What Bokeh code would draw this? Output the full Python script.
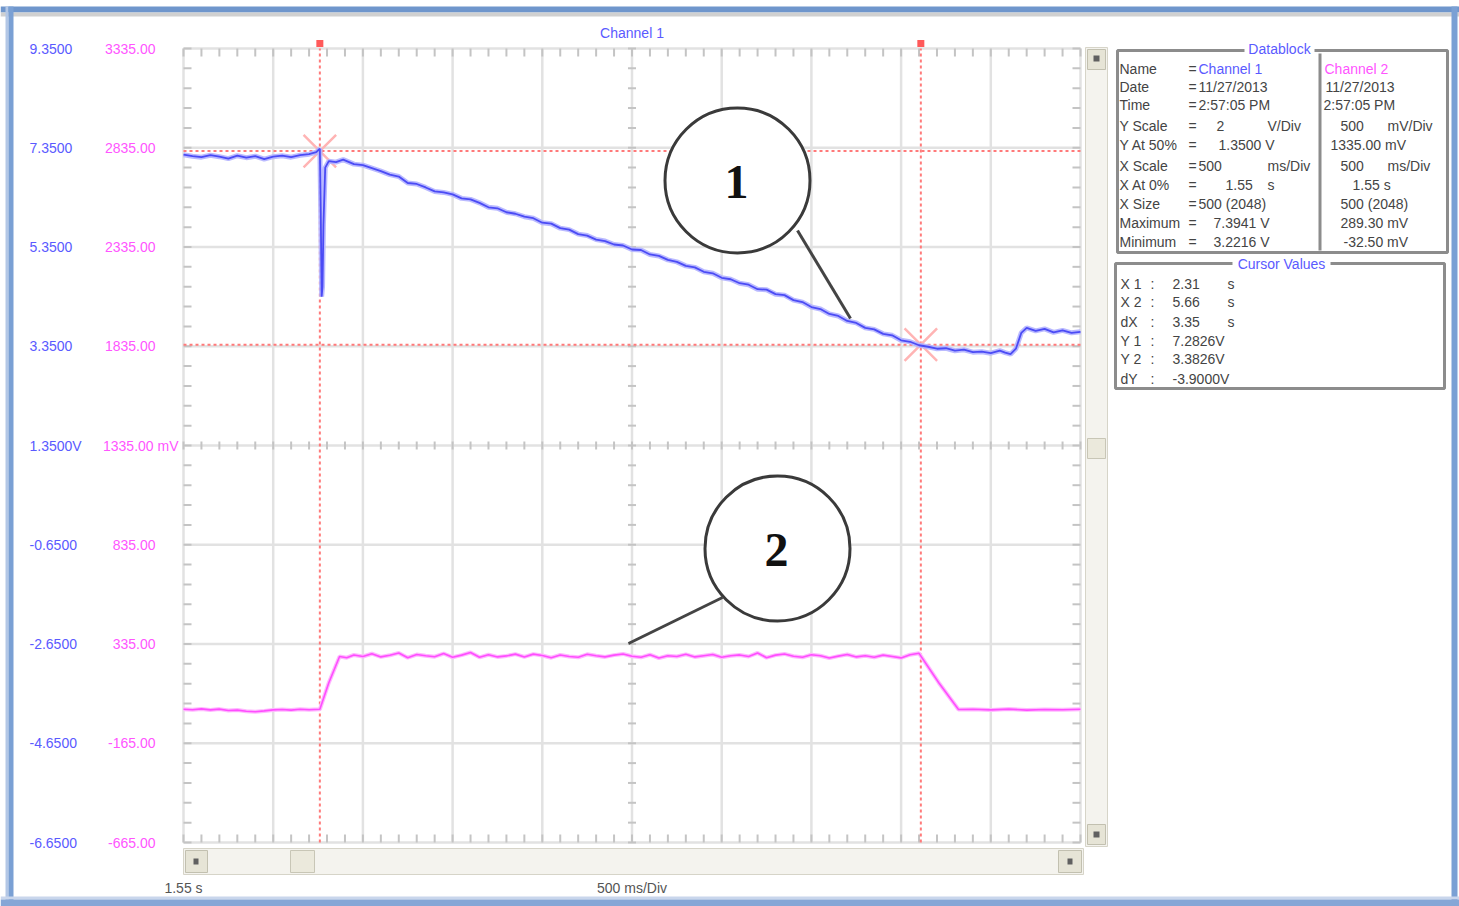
import numpy as np
from bokeh.plotting import figure
from bokeh.models import Range1d
from bokeh.core.properties import value
from bokeh.embed import file_html
from bokeh.resources import INLINE

# ---------------- data ----------------
x_div_s = [1.55, 2.05, 2.55, 3.05, 3.55, 4.05, 4.55, 5.05, 5.55, 6.05, 6.55]
ch1_ticks_v = [-6.65, -4.65, -2.65, -0.65, 1.35, 3.35, 5.35, 7.35, 9.35]
ch1_tick_labels = ["-6.6500", "-4.6500", "-2.6500", "-0.6500", "1.3500V",
                   "3.3500", "5.3500", "7.3500", "9.3500"]
ch2_ticks_mv = [-665, -165, 335, 835, 1335, 1835, 2335, 2835, 3335]
ch2_tick_labels = ["-665.00", "-165.00", "335.00", "835.00", "1335.00 mV",
                   "1835.00", "2335.00", "2835.00", "3335.00"]
x_label_start = "1.55 s"
x_label_scale = "500 ms/Div"
title_text = "Channel 1"

ch1_t = [1.55, 1.60, 1.65, 1.70, 1.75, 1.80, 1.85, 1.90, 1.95, 2.00, 2.05, 2.10,
         2.15, 2.20, 2.25, 2.29, 2.31, 2.315, 2.32, 2.325, 2.33, 2.34, 2.36,
         2.40, 2.44, 2.50, 2.55, 2.60, 2.65, 2.70, 2.75, 2.80, 2.85, 2.90, 2.95,
         3.00, 3.05, 3.10, 3.15, 3.20, 3.25, 3.30, 3.35, 3.40, 3.45, 3.50, 3.55,
         3.60, 3.65, 3.70, 3.75, 3.80, 3.85, 3.90, 3.95, 4.00, 4.05, 4.10, 4.15,
         4.20, 4.25, 4.30, 4.35, 4.40, 4.45, 4.50, 4.55, 4.60, 4.65, 4.70, 4.75,
         4.80, 4.85, 4.90, 4.95, 5.00, 5.05, 5.10, 5.15, 5.20, 5.25, 5.30, 5.35,
         5.40, 5.45, 5.50, 5.55, 5.60, 5.65, 5.70, 5.75, 5.80, 5.85, 5.90, 5.95,
         6.00, 6.05, 6.10, 6.13, 6.16, 6.19, 6.22, 6.25, 6.30, 6.35, 6.40, 6.45,
         6.50, 6.55]
ch1_v = [7.21, 7.18, 7.16, 7.20, 7.17, 7.13, 7.19, 7.15, 7.18, 7.12, 7.17, 7.19,
         7.16, 7.20, 7.22, 7.26, 7.33, 6.10, 4.35, 4.55, 5.80, 6.95, 7.08,
         7.06, 7.11, 7.02, 7.00, 6.94, 6.88, 6.81, 6.77, 6.64, 6.62, 6.55, 6.47,
         6.45, 6.41, 6.33, 6.31, 6.24, 6.15, 6.13, 6.05, 6.02, 5.96, 5.93, 5.84,
         5.82, 5.73, 5.70, 5.61, 5.58, 5.50, 5.47, 5.40, 5.38, 5.30, 5.29, 5.20,
         5.17, 5.09, 5.05, 4.97, 4.94, 4.85, 4.82, 4.73, 4.70, 4.62, 4.59, 4.50,
         4.49, 4.40, 4.38, 4.28, 4.24, 4.14, 4.10, 4.00, 3.96, 3.86, 3.82, 3.72,
         3.69, 3.60, 3.57, 3.47, 3.44, 3.37, 3.34, 3.30, 3.31, 3.26, 3.28, 3.23,
         3.24, 3.21, 3.26, 3.22, 3.19, 3.30, 3.62, 3.72, 3.66, 3.70, 3.63, 3.67,
         3.62, 3.64]

ch2_t = [1.55, 1.60, 1.65, 1.70, 1.75, 1.80, 1.85, 1.90, 1.95, 2.00, 2.05, 2.10,
         2.15, 2.20, 2.25, 2.31, 2.36, 2.42,
         2.46, 2.50, 2.55, 2.60, 2.65, 2.70, 2.75, 2.80, 2.85, 2.90, 2.95, 3.00,
         3.05, 3.10, 3.15, 3.20, 3.25, 3.30, 3.35, 3.40, 3.45, 3.50, 3.55, 3.60,
         3.65, 3.70, 3.75, 3.80, 3.85, 3.90, 3.95, 4.00, 4.05, 4.10, 4.15, 4.20,
         4.25, 4.30, 4.35, 4.40, 4.45, 4.50, 4.55, 4.60, 4.65, 4.70, 4.75, 4.80,
         4.85, 4.90, 4.95, 5.00, 5.05, 5.10, 5.15, 5.20, 5.25, 5.30, 5.35, 5.40,
         5.45, 5.50, 5.55, 5.60, 5.65, 5.76, 5.87,
         5.95, 6.05, 6.15, 6.25, 6.35, 6.45, 6.55]
ch2_mv = [6, 4, 8, 3, 7, 0, 2, -4, -6, -2, 3, 5, 2, 6, 4, 6, 140, 272,
          266, 280, 272, 286, 270, 278, 290, 266, 282, 276, 271, 287, 268, 279,
          292, 268, 281, 270, 275, 284, 270, 284, 277, 266, 280, 272, 268, 283,
          276, 270, 279, 285, 273, 268, 281, 264, 276, 272, 283, 270, 276, 282,
          268, 276, 280, 272, 290, 266, 279, 285, 273, 268, 281, 276, 264, 274,
          282, 270, 276, 268, 279, 272, 265, 281, 288, 140, 5,
          6, 3, 7, 2, 5, 4, 6]

cursor_x_s = [2.31, 5.66]
cursor_y_v = [7.2826, 3.3826]

db_fields = ["Name", "Date", "Time", "Y Scale", "Y At 50%", "X Scale",
             "X At 0%", "X Size", "Maximum", "Minimum"]
ch1_info = ["Channel 1", "11/27/2013", "2:57:05 PM", "2", "1.3500 V", "500",
            "1.55", "500 (2048)", "7.3941 V", "3.2216 V"]
ch1_units = ["", "", "", "V/Div", "", "ms/Div", "s", "", "", ""]
ch2_info = ["Channel 2", "11/27/2013", "2:57:05 PM", "500", "1335.00 mV", "500",
            "1.55 s", "500 (2048)", "289.30 mV", "-32.50 mV"]
ch2_units = ["", "", "", "mV/Div", "", "ms/Div", "", "", "", ""]
cursor_fields = ["X 1", "X 2", "dX", "Y 1", "Y 2", "dY"]
cursor_vals = ["2.31", "5.66", "3.35", "7.2826V", "3.3826V", "-3.9000V"]
cursor_units = ["s", "s", "s", "", "", ""]

# ---------------- layout ----------------
W, H = 1459, 906
FONT = "Liberation Sans"
# plot area (screen pixels) where the scope grid sits
PL, PR, PT, PB = 183, 1080, 48, 842

t0, t1 = x_div_s[0], x_div_s[-1]
v0, v1 = ch1_ticks_v[0], ch1_ticks_v[-1]
m0, m1 = ch2_ticks_mv[0], ch2_ticks_mv[-1]
spx = (t1 - t0) / (PR - PL)
vpx = (v1 - v0) / (PB - PT)
mpx = (m1 - m0) / (PB - PT)

p = figure(width=W, height=H, output_backend="svg", toolbar_location=None,
           x_range=Range1d(0, W), y_range=Range1d(H, 0),
           x_axis_location=None, y_axis_location=None,
           min_border=0, min_border_left=0, min_border_right=0,
           min_border_top=0, min_border_bottom=0)
p.title.visible = False
p.grid.visible = False
p.outline_line_color = None
p.background_fill_color = "white"
p.border_fill_color = "white"
p.extra_x_ranges = {"t": Range1d(t0 - PL * spx, t1 + (W - PR) * spx)}
p.extra_y_ranges = {"v": Range1d(v0 - (H - PB) * vpx, v1 + PT * vpx),
                    "mv": Range1d(m0 - (H - PB) * mpx, m1 + PT * mpx)}


def rect(l, t, r, b, fill=None, line=None, lw=1):
    p.quad(left=[l], right=[r], top=[t], bottom=[b],
           fill_color=fill, fill_alpha=1.0 if fill else 0.0,
           line_color=line, line_alpha=1.0 if line else 0.0, line_width=lw)


def txt(xs, ys, s, color="#444444", size="14px", align="left", **kw):
    p.text(x=xs, y=ys, text=s, text_font=value(FONT), text_font_size=size,
           text_color=color, text_align=align, text_baseline="middle", **kw)


# window frame
rect(0, 6, W, 12, fill="#6f96cc")
rect(0, 12, W, 16, fill="#d0d0d0")
rect(5, 6, 8, H, fill="#b3c7e6")
rect(8, 6, 13, H, fill="#7aa0d4")
rect(1451, 6, 1457, H, fill="#7aa0d4")
rect(0, 896, W, 899, fill="#c9d6ec")
rect(0, 899, W, H, fill="#86a6d6")

# scrollbars
rect(1085, 47, 1107, 846, fill="#f4f3ee", line="#d6d4c8")
rect(1087, 49, 1105, 69, fill="#e6e4d6", line="#c2c0b0")
rect(1087, 824, 1105, 844, fill="#e6e4d6", line="#c2c0b0")
rect(1087, 438, 1105, 458, fill="#ebe9dc", line="#c8c6b6")
rect(1093, 55, 1099, 61, fill="#606060")
rect(1093, 831, 1099, 837, fill="#606060")
rect(183, 848, 1083, 874, fill="#f4f3ee", line="#d6d4c8")
rect(185, 850, 207, 872, fill="#e6e4d6", line="#c2c0b0")
rect(290, 850, 314, 872, fill="#ebe9dc", line="#c8c6b6")
rect(1058, 850, 1081, 872, fill="#e6e4d6", line="#c2c0b0")
rect(193, 858, 198, 864, fill="#606060")
rect(1067, 858, 1072, 864, fill="#606060")

# grid (data coordinates)
p.segment(x0=x_div_s, x1=x_div_s, y0=[v0] * len(x_div_s), y1=[v1] * len(x_div_s),
          x_range_name="t", y_range_name="v", line_color="#e2e2e2", line_width=2.5)
p.segment(x0=[t0] * len(ch1_ticks_v), x1=[t1] * len(ch1_ticks_v),
          y0=ch1_ticks_v, y1=ch1_ticks_v,
          x_range_name="t", y_range_name="v", line_color="#e2e2e2", line_width=2.5)

# small tick marks on the edges and the centre cross
x_c = x_div_s[len(x_div_s) // 2]
y_c = ch1_ticks_v[len(ch1_ticks_v) // 2]
xm = np.linspace(t0, t1, (len(x_div_s) - 1) * 5 + 1)
ym = np.linspace(v0, v1, (len(ch1_ticks_v) - 1) * 5 + 1)
dy_t = vpx * 8
dx_t = spx * 8
x0s, x1s, y0s, y1s = [], [], [], []
for x in xm:
    x0s += [x, x, x]
    x1s += [x, x, x]
    y0s += [v1, v0, y_c - dy_t / 2]
    y1s += [v1 - dy_t, v0 + dy_t, y_c + dy_t / 2]
for y in ym:
    y0s += [y, y, y]
    y1s += [y, y, y]
    x0s += [t0, t1, x_c - dx_t / 2]
    x1s += [t0 + dx_t, t1 - dx_t, x_c + dx_t / 2]
p.segment(x0=x0s, y0=y0s, x1=x1s, y1=y1s, x_range_name="t", y_range_name="v",
          line_color="#c4c4c4", line_width=2)

# cursors
p.segment(x0=cursor_x_s, x1=cursor_x_s, y0=[v0] * 2, y1=[v1] * 2,
          x_range_name="t", y_range_name="v",
          line_color="#ff7a7a", line_dash="3 3", line_width=2)
p.segment(x0=[t0] * 2, x1=[t1] * 2, y0=cursor_y_v, y1=cursor_y_v,
          x_range_name="t", y_range_name="v",
          line_color="#ff7a7a", line_dash="3 3", line_width=2)
p.scatter(x=cursor_x_s, y=[v1 + 5 * vpx] * 2, marker="square", size=7,
          x_range_name="t", y_range_name="v", fill_color="#ff5a5a", line_color=None)
p.scatter(x=cursor_x_s, y=cursor_y_v, marker="x", size=46,
          x_range_name="t", y_range_name="v", line_color="#ffb4b4", line_width=2.5)

# traces
p.line(ch1_t, ch1_v, x_range_name="t", y_range_name="v",
       line_color="#b3b3ff", line_width=5, line_alpha=0.9)
p.line(ch1_t, ch1_v, x_range_name="t", y_range_name="v",
       line_color="#4b4bf5", line_width=1.8)
p.line(ch2_t, ch2_mv, x_range_name="t", y_range_name="mv",
       line_color="#ffb8ff", line_width=4)
p.line(ch2_t, ch2_mv, x_range_name="t", y_range_name="mv",
       line_color="#ff4dff", line_width=1.6)

# numbered callouts
p.segment(x0=[797, 722], y0=[230, 597], x1=[850, 628], y1=[318, 643],
          line_color="#444444", line_width=3)
p.scatter(x=[737, 777], y=[180, 548], marker="circle", size=145,
          fill_color="white", line_color="#3a3a3a", line_width=3)
p.text(x=[736, 776], y=[181, 549], text=["1", "2"],
       text_font=value("Liberation Serif"), text_font_style="bold",
       text_font_size="48px", text_color="#111111",
       text_align="center", text_baseline="middle")

# scale labels (positioned by their values through the data scales)
blue_x = [29] * len(ch1_ticks_v)
txt(blue_x, ch1_ticks_v, ch1_tick_labels, color="#5a5aff", y_range_name="v")
pink_x = [178 if s.endswith("mV") else 155 for s in ch2_tick_labels]
txt(pink_x, ch2_ticks_mv, ch2_tick_labels, color="#ff55ff", align="right",
    y_range_name="mv")
txt([t0, x_c], [887, 887], [x_label_start, x_label_scale], color="#555555",
    align="center", x_range_name="t")
txt([x_c], [32], [title_text], color="#5a5aff", align="center", x_range_name="t")

# datablock panel
rect(1117, 50, 1447, 252, line="#8c8c8c", lw=3)
rect(1318, 53, 1321, 250, fill="#8c8c8c")
rect(1244, 41, 1314, 56, fill="white")
txt([1279], [48], ["Datablock"], color="#5a5aff", align="center")
rows_y = [68, 86, 104, 125, 144, 165, 184, 203, 222, 241]
ch1_x = [1198, 1198, 1198, 1216, 1218, 1198, 1225, 1198, 1213, 1213]
ch2_x = [1324, 1325, 1323, 1340, 1330, 1340, 1352, 1340, 1340, 1343]
n = len(rows_y)
txt([1119] * n, rows_y, db_fields)
txt([1188] * n, rows_y, ["="] * n)
txt(ch1_x[:1], rows_y[:1], ch1_info[:1], color="#5a5aff")
txt(ch1_x[1:], rows_y[1:], ch1_info[1:])
txt(ch2_x[:1], rows_y[:1], ch2_info[:1], color="#ff55ff")
txt(ch2_x[1:], rows_y[1:], ch2_info[1:])
u1 = [i for i in range(n) if ch1_units[i]]
txt([1267] * len(u1), [rows_y[i] for i in u1], [ch1_units[i] for i in u1])
u2 = [i for i in range(n) if ch2_units[i]]
txt([1387] * len(u2), [rows_y[i] for i in u2], [ch2_units[i] for i in u2])

# cursor values panel
rect(1115, 263, 1444, 388, line="#8c8c8c", lw=3)
rect(1232, 255, 1330, 271, fill="white")
txt([1281], [263], ["Cursor Values"], color="#5a5aff", align="center")
crow_y = [283, 301, 321, 340, 358, 378]
m = len(crow_y)
txt([1120] * m, crow_y, cursor_fields)
txt([1150] * m, crow_y, [":"] * m)
txt([1172] * m, crow_y, cursor_vals)
uc = [i for i in range(m) if cursor_units[i]]
txt([1227] * len(uc), [crow_y[i] for i in uc], [cursor_units[i] for i in uc])

open("out.html", "w").write(file_html(p, INLINE))
